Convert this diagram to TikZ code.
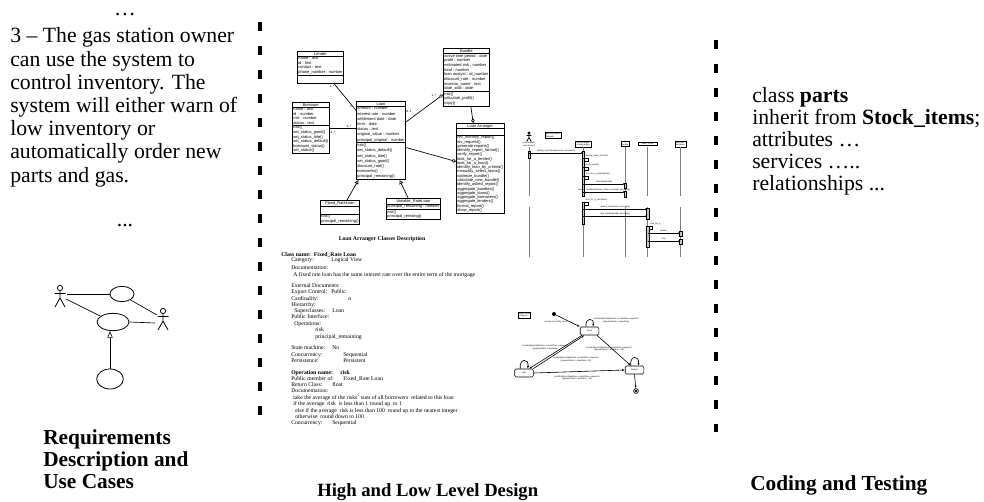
\documentclass[tikz,border=0pt]{standalone}
\usepackage{fontspec}
\setmainfont{Liberation Serif}
\setsansfont{Liberation Sans}
\usetikzlibrary{shapes.geometric,shapes.multipart,arrows.meta,positioning,calc}

\newcommand{\storyfont}{\fontsize{16.3}{17}\selectfont}
\newcommand{\classfont}{\sffamily\fontsize{3}{3.4}\selectfont}
\newcommand{\descfont}{\fontsize{4.3}{5}\selectfont}
\newcommand{\seqfont}{\sffamily\fontsize{1.6}{1.9}\selectfont}

\tikzset{
  storyline/.style={anchor=base west, inner sep=0, font=\storyfont},
  stagename/.style={anchor=base west, inner sep=0, font=\fontsize{16}{17}\selectfont\bfseries},
  stagesep/.style={line width=3.4pt, dash pattern=on 6.75pt off 11.25pt},
  stickactor/.pic={
    \draw[line width=0.6pt] (0,-10) circle[radius=2.6];
    \draw[line width=0.6pt] (0,-7.4) -- (0,0) (-5.5,-4.5) -- (5.5,-4.5) (-5,9) -- (0,0) -- (5,9);
  },
  usecase/.style={draw, ellipse, line width=0.6pt, inner sep=0},
  ucline/.style={line width=0.5pt},
  classbox/.style={draw, line width=0.6pt, fill=white, anchor=north west, rectangle split, rectangle split parts=3,
    align=left, rectangle split part align={center,left,left}, font=\classfont, inner xsep=0.7pt, inner ysep=0.4pt,
    rectangle split empty part height=1.2pt},
  mult/.style={font=\sffamily\fontsize{2.4}{2.6}\selectfont, inner sep=0},
  assoc/.style={line width=0.5pt},
  aggr/.style={line width=0.5pt, -{Diamond[open, length=3.6pt, width=2.6pt]}},
  inherit/.style={line width=0.5pt, -{Triangle[open, length=3pt, width=3pt]}},
  desctitle/.style={anchor=base, inner sep=0, font=\fontsize{4.3}{5}\selectfont\bfseries},
  descline/.style={anchor=base west, inner sep=0, font=\descfont},
  objbox/.style={draw, line width=0.4pt, fill=white, font=\seqfont, align=center, inner sep=0.6pt},
  lifeline/.style={draw=gray, line width=0.6pt},
  actbar/.style={draw, line width=0.3pt, fill=gray!45},
  msg/.style={line width=0.35pt, -{Latex[length=1.5pt, width=1.3pt]}},
  msglabel/.style={font=\seqfont, inner sep=0.3pt},
  notebox/.style={draw, line width=0.5pt, fill=white, font=\seqfont, align=left, inner sep=0.7pt},
  statebox/.style={draw, rounded corners=1pt, line width=0.5pt, fill=white, font=\seqfont, minimum width=14pt, minimum height=6pt, inner sep=0.4pt},
  trans/.style={line width=0.45pt, -{Latex[length=2pt, width=1.6pt]}},
  translabel/.style={font=\seqfont, align=center, inner sep=0.2pt}
}

\begin{document}
\begin{tikzpicture}[x=0.75pt, y=-0.75pt]
  \useasboundingbox (0,0) rectangle (984,502);

  % requirements
  \node[anchor=base, inner sep=0, font=\storyfont] (dotsup) at (125,16) {…};
  \foreach \txt [count=\k] in {3 – The gas station owner, can use the system to, control inventory. The,
      system will either warn of, low inventory or, automatically order new, parts and gas.}
    \node[storyline] (story\k) at (10,19.8+23.2*\k) {\txt};
  \node[anchor=base, inner sep=0, font=\storyfont] (dotsdown) at (125,227) {...};

  \coordinate (actorA) at (60,298);
  \coordinate (actorB) at (163,321);
  \pic at (actorA) {stickactor};
  \pic at (actorB) {stickactor};
  \node[usecase, minimum width=18pt, minimum height=11.5pt] (uctop) at (122,294) {};
  \node[usecase, minimum width=24pt, minimum height=13pt] (ucmid) at (113,322) {};
  \node[usecase, minimum width=20pt, minimum height=15pt] (ucbot) at (110,379) {};
  \coordinate (actorAhand) at (67,294);
  \coordinate (actorAside) at (66,299);
  \coordinate (actorBhand) at (157,315);
  \coordinate (actorBside) at (155,323);
  \draw[ucline] (actorAhand) -- (uctop.west);
  \draw[ucline] (actorAside) -- (ucmid.155);
  \draw[ucline] (uctop.-35) -- (actorBhand);
  \draw[ucline] (ucmid.east) -- (actorBside);
  \draw[ucline, -{Triangle[open, length=5pt, width=4pt]}] (ucbot.north) -- (ucbot.north |- ucmid.south);

  \node[stagename] (reqname1) at (43,444) {Requirements};
  \node[stagename] (reqname2) at (43,466) {Description and};
  \node[stagename] (reqname3) at (43,488) {Use Cases};

  \draw[stagesep] (260,22) -- (260,425);
  \draw[stagesep] (716,40) -- (716,432);

  % class diagram
  \node[classbox, minimum width=31.5pt] (lender) at (297,51) {Lender
    \nodepart{two}name : text\\id : text\\contact : text\\phone\_number : number
    \nodepart{three}};
  \node[classbox, minimum width=26.25pt] (borrower) at (292,102) {Borrower
    \nodepart{two}name : text\\id : number\\risk : number\\status : text
    \nodepart{three}risk()\\set\_status\_good()\\set\_status\_late()\\set\_status\_default()\\borrower\_status()\\set\_status()};
  \node[classbox, minimum width=35.25pt, font=\sffamily\fontsize{3}{3.9}\selectfont] (loan) at (356,101) {Loan
    \nodepart{two}amount : number\\interest rate : number\\settlement date : date\\term : date\\status : text\\original\_value : number\\principal\_original : number
    \nodepart{three}risk()\\set\_status\_default()\\set\_status\_late()\\set\_status\_good()\\discount\_rate()\\borrowers()\\principal\_remaining()};
  \node[classbox, minimum width=33pt, font=\sffamily\fontsize{3}{3.5}\selectfont] (bundle) at (443,48) {Bundle
    \nodepart{two}active time period : date\\profit : number\\estimated risk : number\\total : number\\loan analyst : id\_number\\discount\_rate : number\\investor\_name : text\\date\_sold : date
    \nodepart{three}risk()\\calculate\_profit()\\copy()};
  \node[classbox, minimum width=33.75pt, font=\sffamily\fontsize{3}{3.2}\selectfont] (arranger) at (456,123) {Loan Arranger
    \nodepart{two}\strut
    \nodepart{three}rev\_monthly\_report()\\inv\_request()\\generate reports()\\identify\_report\_format()\\verify\_report()\\look\_for\_a\_lender()\\look\_for\_a\_loan()\\identify\_loan\_by\_criteria()\\manually\_select\_loans()\\optimize\_bundle()\\calculate\_new\_bundle()\\identify\_asked\_report()\\aggregate\_bundles()\\aggregate\_loans()\\aggregate\_borrowers()\\aggregate\_lenders()\\format\_report()\\show\_report()};
  \node[classbox, minimum width=27.75pt] (fixedloan) at (320,200) {Fixed\_RateLoan
    \nodepart{two}
    \nodepart{three}risk()\\principal\_remaining()};
  \node[classbox, minimum width=38.25pt] (varloan) at (386,198) {Variable\_RateLoan
    \nodepart{two}principal\_remaining : number
    \nodepart{three}risk()\\principal\_remaing()};

  \draw[assoc] (lender) -- (loan);
  \draw[assoc] (borrower.east) -- (borrower.east -| loan.west);
  \draw[aggr] (loan) -- (bundle);
  \draw[aggr] (bundle) -- (arranger);
  \draw[aggr] (loan) -- (arranger);
  \draw[inherit] (fixedloan) -- (loan);
  \draw[inherit] (varloan) -- (loan);
  \node[mult] (mlender) at (332,86) {1..*};
  \node[mult] (mloanA) at (351,106) {1};
  \node[mult] (mloanB) at (349,126) {1..*};
  \node[mult] (mborrower) at (333,132) {1..*};
  \node[mult] (mloanC) at (409,111) {0..1};
  \node[mult] (mbundle) at (434,95) {1..*};

  % class description
  \node[desctitle] (desctitle) at (382,240) {Loan Arranger Classes Description};
  \foreach \xx/\yy/\txt [count=\k] in {281/256/{\textbf{Class name:\ \ Fixed\_Rate Loan}}, 291/262/Category:,
      291/269/Documentation:, 293/276/A fixed rate loan has the same interest rate over the entire term of the mortgage,
      291/287/External Documents:, 291/293/Export Control:, 291/300/Cardinality:, 291/306/Hierarchy:,
      294/312/Superclasses:, 291/318/Public Interface:, 294/325/Operations:, 315/331/risk,
      315/338/principal\_remaining, 291/349/State machine:, 291/356/Concurrency:, 291/362/Persistence:,
      291/374/{\textbf{Operation name:}}, 291/380/Public member of:, 291/386/Return Class:, 291/392/Documentation:,
      293/399/take the average of the risks' sum of all borrowers\ \ related to this loan,
      293/405/if the average\ \ risk\ \ is less than 1 round up\ \ to 1,
      295/412/else if the average\ \ risk is less than 100\ \ round up to the nearest integer,
      295/418/otherwise\ \ round down to 100, 291/424/Concurrency:}
    \node[descline] (descl\k) at (\xx,\yy) {\txt};
  \foreach \xx/\yy/\txt [count=\k] in {331/262/Logical View, 331/293/Public, 348/300/n, 332/312/Loan,
      332/349/No, 343/356/Sequential, 343/362/Persistent, 340/374/{\textbf{risk}},
      343/380/Fixed\_Rate Loan, 332/386/float, 332/424/Sequential}
    \node[descline] (descv\k) at (\xx,\yy) {\txt};

  % sequence diagram
  \coordinate (seqactor) at (529,147);
  \pic[scale=0.45] at (529,137.5) {stickactor};
  \node[msglabel, align=center] (actorname) at (529,144.5) {Loan Analyst :\\Loan Analyst};
  \node[notebox] (seqnote) at (553,135.5) {Monthly Report\\Request\hspace{6pt}};
  \node[objbox] (objla) at (583,144) {Loan Arranger :\\LoanArranger};
  \node[objbox] (objbundle) at (625,144) {:\\Bundle};
  \node[objbox, minimum width=14pt] (objloan) at (647.5,144) {Loan : Loan};
  \node[objbox] (objborrower) at (680.5,144) {Borrower :\\Borrower};
  \foreach \o in {seqactor,objla,objbundle,objloan,objborrower} {
    \draw[lifeline] (\o |- 0,147.5) -- (\o |- 0,196);
    \draw[lifeline] (\o |- 0,207) -- (\o |- 0,257);
  }
  \draw[actbar] (528,151) rectangle (530,158);
  \draw[actbar] (581.8,151) rectangle (584.2,196);
  \draw[actbar] (581.8,202) rectangle (584.2,224);
  \draw[actbar] (623.8,183) rectangle (626.2,188);
  \draw[actbar] (623.8,191.5) rectangle (626.2,197);
  \draw[actbar] (646.3,208) rectangle (648.7,219);
  \draw[actbar] (646.3,226) rectangle (648.7,247);
  \draw[actbar] (679.3,231) rectangle (681.7,236);
  \draw[actbar] (679.3,239) rectangle (681.7,244);

  \draw[msg] (seqactor |- 0,153) -- node[msglabel, above] (msgA) {identify\_report(bundle, loans, borrowers)} (objla |- 0,153);
  \foreach \yy/\txt [count=\k] in {158/identify\_report\_format(), 167/verify\_report(), 176/look\_for\_a\_lender(lender), 202/look\_for\_a\_loan(loans)} {
    \draw[msg] (objla |- 0,\yy) -- ++(5,0) -- ++(0,3.5) -- ++(-3.8,0);
    \node[msglabel, anchor=south west, xshift=1.5pt] (selfmsg\k) at (objla |- 0,\yy) {\txt};
  }
  \draw[msg] (objla |- 0,184) -- node[msglabel, above] (msgB) {calculate(bundle)} (objbundle |- 0,184);
  \draw[msg] (objla |- 0,192) -- node[msglabel, above] (msgC) {manual\_bundle(reference, others, principal\_remaining)} (objbundle |- 0,192);
  \draw[msg] (objla |- 0,209) -- node[msglabel, above] (msgD) {update\_loan(status, borrowers)} (objloan |- 0,209);
  \draw[msg] (objla |- 0,216) -- node[msglabel, above] (msgE) {new\_bundle(bundle, borrowers)} (objloan |- 0,216);
  \draw[msg] (objloan |- 0,226) -- ++(5,0) -- ++(0,3.5) -- ++(-3.8,0);
  \node[msglabel, anchor=south west, xshift=1.5pt] (msgF) at (objloan |- 0,226) {look\_for\_a\_};
  \draw[msg] (objloan |- 0,233) -- node[msglabel, above] (msgG) {update\_} (objborrower |- 0,233);
  \draw[msg] (objloan |- 0,241) -- node[msglabel, above] (msgH) {risk\_} (objborrower |- 0,241);

  % state diagram
  \node[notebox] (stnote) at (524.5,315) {Loan State\\Diagram\hspace{5pt}};
  \node[circle, fill, inner sep=0, minimum size=3pt] (stinit) at (554,314) {};
  \node[statebox] (stgood) at (589.5,331) {Good};
  \node[statebox] (stlate) at (524,373) {Late};
  \node[statebox] (stdefault) at (634.5,370) {Default};
  \node[circle, draw, line width=0.5pt, inner sep=0, minimum size=3.6pt] (stfinal) at (636,391) {};
  \fill (stfinal) circle[radius=1.3];

  \draw[trans] (stinit) -- node[translabel, below left] (trinit) {receive a monthly report} (stgood.north west);
  \draw[trans] ([xshift=-2.6pt]stgood.north) .. controls +(-1pt,7pt) and +(1pt,7pt) .. ([xshift=2.6pt]stgood.north);
  \draw[trans] ([xshift=-2.8pt]stlate.north) .. controls +(-1pt,8pt) and +(1pt,8pt) .. ([xshift=2.8pt]stlate.north);
  \draw[trans] ([xshift=-2.8pt]stdefault.north) .. controls +(-1pt,8pt) and +(1pt,8pt) .. ([xshift=2.8pt]stdefault.north);
  \draw[trans] (stgood.-150) -- (stlate.40);
  \draw[trans] (stlate.25) -- (stgood.-140);
  \draw[trans] (stgood.-30) -- (stdefault.130);
  \draw[trans] (stlate.east) -- (stdefault.west);
  \draw[trans] (stdefault.south) -- (stfinal);
  \node[translabel, anchor=south west] (trgood) at (593,323) {monthlyReport(dateDue, currentDate, payment)\\{}[paymentDate <= dueDate]};
  \node[translabel] (trgoodlate) at (545,347.5) {monthlyReport(dateDue, currentDate, payment)\\{}[paymentDate > dueDate]};
  \node[translabel] (trlategood) at (576,359.5) {monthlyReport(dateDue, currentDate, payment)\\{}[paymentDate <= dueDate + 15]};
  \node[translabel] (trgooddefault) at (609,349) {monthlyReport(dateDue, currentDate, payment)\\{}[paymentDate > dueDate + 15]};
  \node[translabel] (trlatedefault) at (577,378) {monthlyReport(dateDue, currentDate, payment)\\{}[paymentDate > dueDate + 15]};

  \node[stagename, font=\fontsize{14}{15}\selectfont\bfseries] (designname) at (317,496) {\underline{High and Low Level Design}};

  % coding
  \node[storyline] (codeA) at (752,103) {class \textbf{parts}};
  \node[storyline] (codeB) at (752,125) {inherit from \textbf{Stock\_items};};
  \node[storyline] (codeC) at (752,147) {attributes …};
  \node[storyline] (codeD) at (752,169) {services …..};
  \node[storyline] (codeE) at (752,191) {relationships ...};
  \node[stagename] (codename) at (750,490) {Coding and Testing};
\end{tikzpicture}
\end{document}
